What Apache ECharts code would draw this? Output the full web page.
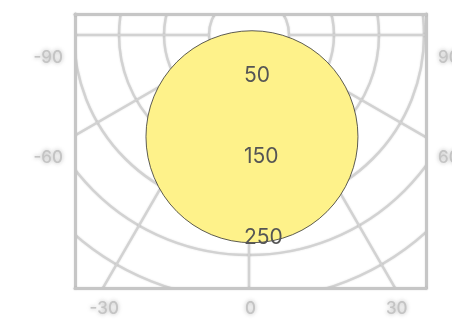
<!DOCTYPE html>
<html>
<head>
<meta charset="utf-8">
<title>graticule</title>
<script src="https://cdn.jsdelivr.net/npm/echarts@6/dist/echarts.min.js"></script>
<style>
    html, body { margin: 0; padding: 0; background: #fff; }
    #main { width: 452px; height: 325px; }
</style>
</head>
<body>
<div id="main"></div>
<script>
// tick labels
var xLabels = [-30, 0, 30];
var leftLabels = [-90, -60];
var rightLabels = [90, 60];
var circleLabels = [50, 150, 250];
// the one big point  [x, value on inner axis]
var bubble = [[0.3, 125]];

var myChart = echarts.init(document.getElementById('main'));

var gray = '#c6c6c6';
var gridLine = { color: '#d2d2d2', width: 2.5, shadowBlur: 2, shadowColor: 'rgba(0,0,0,0.12)' };
var frameLine = { color: gray, width: 3, shadowBlur: 2, shadowColor: 'rgba(0,0,0,0.12)' };
var grayText = {
    color: '#c4c4c4', fontSize: 17, fontWeight: 500, fontFamily: 'Inter', margin: 12,
    textShadowColor: 'rgba(160,160,160,0.8)', textShadowBlur: 4
};

function edgeAxis(extra) {
    var a = {
        type: 'value',
        z: 60,
        axisLine: { show: true, onZero: false, lineStyle: frameLine },
        axisTick: { show: false },
        splitLine: { show: false },
        axisLabel: Object.assign({}, grayText)
    };
    return Object.assign(a, extra);
}

var option = {
    animation: false,
    grid: { left: 75, right: 26, top: 14, bottom: 37, outerBoundsMode: 'none', containLabel: false },
    polar: { center: [249, 35], radius: [40, 355] },
    radiusAxis: {
        min: 0, max: 350, interval: 50,
        axisLine: { show: false }, axisTick: { show: false }, axisLabel: { show: false },
        splitLine: { show: true, lineStyle: gridLine }
    },
    angleAxis: {
        min: 0, max: 360, interval: 30, startAngle: 0,
        axisLine: { show: false }, axisTick: { show: false }, axisLabel: { show: false },
        splitLine: { show: true, lineStyle: gridLine }
    },
    xAxis: [
        edgeAxis({ position: 'bottom', min: -36, max: 36,
            axisLabel: Object.assign({}, grayText, { customValues: xLabels }) }),
        edgeAxis({ position: 'top', min: -36, max: 36, axisLabel: { show: false } })
    ],
    yAxis: [
        edgeAxis({ position: 'left', inverse: true, min: -103, max: -21,
            axisLabel: Object.assign({}, grayText, { customValues: leftLabels }) }),
        edgeAxis({ position: 'right', min: 21, max: 103,
            axisLabel: Object.assign({}, grayText, { customValues: rightLabels }) }),
        {
            type: 'value', position: 'right', offset: -190, inverse: true,
            min: -26.5, max: 311.7, z: 60,
            axisLine: { show: false }, axisTick: { show: false }, splitLine: { show: false },
            axisLabel: { customValues: circleLabels, color: '#555', fontSize: 21, fontFamily: 'Inter', margin: 8 }
        }
    ],
    graphic: [
        { type: 'rect', z: 50, silent: true, shape: { x: 0, y: 0, width: 452, height: 14 }, style: { fill: '#fff' } },
        { type: 'rect', z: 50, silent: true, shape: { x: 0, y: 288, width: 452, height: 37 }, style: { fill: '#fff' } },
        { type: 'rect', z: 50, silent: true, shape: { x: 0, y: 0, width: 75, height: 325 }, style: { fill: '#fff' } },
        { type: 'rect', z: 50, silent: true, shape: { x: 426, y: 0, width: 26, height: 325 }, style: { fill: '#fff' } }
    ],
    series: [
        {
            type: 'scatter',
            xAxisIndex: 0, yAxisIndex: 2,
            data: bubble,
            symbolSize: 212,
            z: 5,
            itemStyle: { color: '#fef28a', borderColor: '#333', borderWidth: 0.8, opacity: 1 }
        }
    ]
};
myChart.setOption(option);
</script>
</body>
</html>
